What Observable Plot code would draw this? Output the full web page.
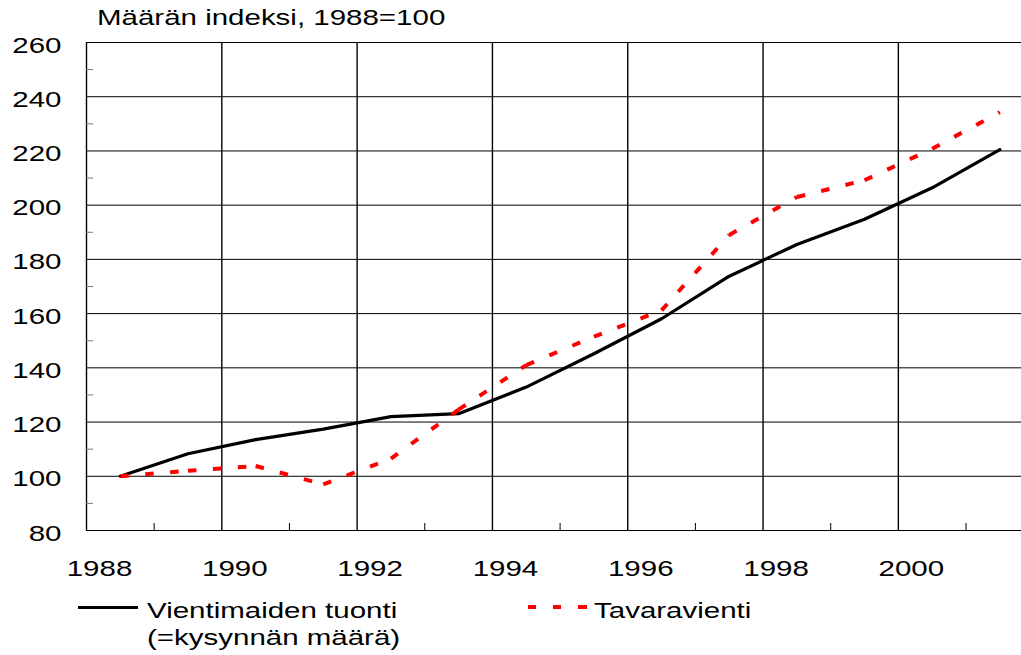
<!DOCTYPE html>
<html>
<head>
<meta charset="utf-8">
<script src="https://cdn.jsdelivr.net/npm/d3@7"></script>
<script src="https://cdn.jsdelivr.net/npm/@observablehq/plot@0.6"></script>
<style>
  html, body { margin: 0; padding: 0; background: #fff; }
  body { width: 1021px; height: 655px; overflow: hidden; font-family: "Liberation Sans", Arial, sans-serif; color: #000; }
  .stretch { display: inline-block; transform: scaleX(1.34); transform-origin: 0 0; white-space: nowrap; }
  #title { position: relative; height: 32px; }
  #title span { position: absolute; left: 97px; top: 7px; font-size: 22px; line-height: 22px; }
  #legend { position: relative; height: 63px; }
  #legend .txt { position: absolute; font-size: 22px; line-height: 27px; }
  #chart svg { display: block; }
</style>
</head>
<body>
<div id="title"><span class="stretch">Määrän indeksi, 1988=100</span></div>
<div id="chart"></div>
<div id="legend">
  <div style="position:absolute;left:78px;top:13.5px;width:60px;height:3.3px;background:#000"></div>
  <div class="txt" style="left:147px;top:5px"><span class="stretch">Vientimaiden tuonti<br>(=kysynnän määrä)</span></div>
  <div style="position:absolute;left:528px;top:13px;width:59.5px;height:4px;background:repeating-linear-gradient(to right,#ff0000 0,#ff0000 8.5px,transparent 8.5px,transparent 25px)"></div>
  <div class="txt" style="left:594px;top:5px"><span class="stretch">Tavaravienti</span></div>
</div>
<script>
// Data (annual values, plotted at mid-year)
const years = [1988, 1989, 1990, 1991, 1992, 1993, 1994, 1995, 1996, 1997, 1998, 1999, 2000, 2001];
const demand = [100, 108.3, 113.5, 117.4, 122.0, 123.1, 132.9, 145.2, 158.1, 173.8, 185.5, 194.8, 206.4, 220.5]; // Vientimaiden tuonti
const exportsVol = [100, 102.0, 103.8, 97.0, 106.5, 124.6, 141.0, 151.5, 161.2, 189.0, 203.0, 209.2, 220.8, 234.3]; // Tavaravienti
const yTicks = [80, 100, 120, 140, 160, 180, 200, 220, 240, 260];
const yMinor = [90, 110, 130, 150, 170, 190, 210, 230, 250];
const xLabels = [1988, 1990, 1992, 1994, 1996, 1998, 2000];
const xGrid = [1988, 1990, 1992, 1994, 1996, 1998, 2000];
const xMinor = [1989, 1991, 1993, 1995, 1997, 1999, 2001];

const demandData = years.map((yr, i) => ({t: yr + 0.5, v: demand[i]}));
const exportSegs = years.slice(0, -1).map((yr, i) => ({
  t1: yr + 0.5, v1: exportsVol[i], t2: years[i + 1] + 0.5, v2: exportsVol[i + 1]
}));

const chart = Plot.plot({
  width: 1021,
  height: 560,
  marginLeft: 86,
  marginRight: 0,
  marginTop: 10,
  marginBottom: 62,
  style: {fontFamily: "'Liberation Sans', Arial, sans-serif", fontSize: "22px", color: "#000", background: "#fff"},
  x: {domain: [1988, 2001.82]},
  y: {domain: [80, 260]},
  marks: [
    Plot.ruleY(yTicks, {stroke: "#000", strokeWidth: 1}),
    Plot.ruleX(xGrid, {y1: 80, y2: 260, stroke: "#000", strokeWidth: 1.4}),
    Plot.ruleY(yMinor, {x1: 1988, x2: 1988, insetRight: -7, stroke: "#777", strokeWidth: 1}),
    Plot.ruleX(xMinor, {y1: 80, y2: 80, insetTop: -7, stroke: "#000", strokeWidth: 1}),
    Plot.line(demandData, {x: "t", y: "v", stroke: "#000", strokeWidth: 3.2}),
    Plot.link(exportSegs, {x1: "t1", y1: "v1", x2: "t2", y2: "v2", stroke: "#ff0000", strokeWidth: 4, strokeDasharray: "8.5,16.5", strokeLinecap: "butt"}),
    Plot.axisY(yTicks, {tickSize: 0, tickPadding: 25, dy: 3, fontSize: 22, fill: "#000"}),
    Plot.axisX(xLabels, {tickSize: 0, tickPadding: 30, dx: 13, fontSize: 22, fill: "#000", tickFormat: d => String(d)})
  ]
});

// Horizontally stretch all text glyphs around their anchor, matching the wide lettering of the original
const S = 1.34;
chart.querySelectorAll("text").forEach(t => {
  const tr = t.getAttribute("transform") || "";
  t.setAttribute("transform", `${tr} scale(${S},1)`);
});

document.getElementById("chart").appendChild(chart);
</script>
</body>
</html>
